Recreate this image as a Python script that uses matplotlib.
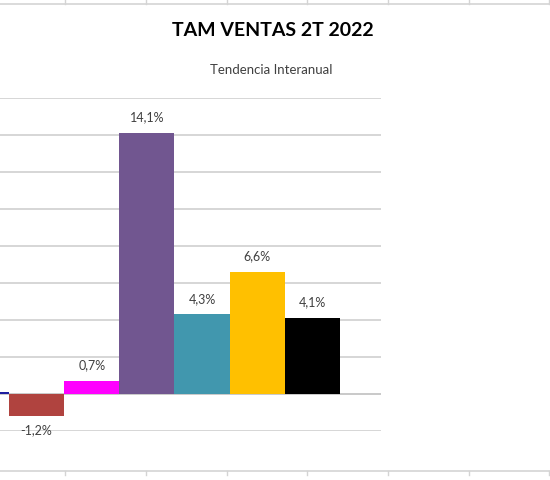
import matplotlib
matplotlib.use("Agg")
import matplotlib.pyplot as plt
from matplotlib.lines import Line2D

# Data (percent, year-on-year trend)
categories = ["A", "B", "C", "D", "E", "F", "G"]
values = [0.1, -1.2, 0.7, 14.1, 4.3, 6.6, 4.1]
labels = ["0,1%", "-1,2%", "0,7%", "14,1%", "4,3%", "6,6%", "4,1%"]
colors = ["#1f1fa0", "#b0433f", "#ff00ff", "#715690", "#4197ae", "#ffc000", "#000000"]
yticks = [-2, 0, 2, 4, 6, 8, 10, 12, 14, 16]

W, H = 550, 480
fig = plt.figure(figsize=(5.5, 4.8), dpi=100)
plt.rcParams['font.family'] = ['Lato', 'DejaVu Sans']

def fx(px):
    return px / W

def fy(py):
    return 1 - py / H

# plot area: x px 0..381, y px 98 (16%) .. 431 (-2%)
ax = fig.add_axes([fx(0), fy(431), fx(381), fy(98) - fy(431)])
x = list(range(len(categories)))
ax.bar(x, values, width=1.0, color=colors, zorder=3)
ax.set_xlim(0.338, 7.244)
ax.set_ylim(-2, 16)
ax.set_yticks(yticks)
ax.yaxis.grid(True, color="#d0d0d0", linewidth=1.2, zorder=0)
ax.tick_params(left=False, bottom=False, labelleft=False, labelbottom=False)
for s in ax.spines.values():
    s.set_visible(False)
ax.axhline(0, color="#c8c8c8", linewidth=1.2, zorder=2)

for xi, v, lab in zip(x, values, labels):
    if v >= 0:
        ax.annotate(lab, (xi, v), xytext=(0, 7), textcoords="offset points",
                    ha="center", va="bottom", fontsize=9, color="#404040")
    else:
        ax.annotate(lab, (xi, v), xytext=(0, -6), textcoords="offset points",
                    ha="center", va="top", fontsize=9, color="#404040")

# Titles
fig.text(fx(273), fy(31), "TAM VENTAS 2T 2022", ha="center", va="center",
         fontsize=14, fontweight="bold", color="#000000")
fig.text(fx(271), fy(70), "Tendencia Interanual", ha="center", va="center",
         fontsize=9.5, color="#404040")

# Spreadsheet cell gridlines
for yl in (4, 471):
    fig.add_artist(Line2D([0, 1], [fy(yl), fy(yl)], color="#d4d4d4", linewidth=1.2))
for xt in (65, 146, 227, 307, 388, 469, 549):
    fig.add_artist(Line2D([fx(xt), fx(xt)], [fy(4), fy(0)], color="#d4d4d4", linewidth=1))
    fig.add_artist(Line2D([fx(xt), fx(xt)], [fy(471), fy(475)], color="#d4d4d4", linewidth=1))

fig.savefig("out.png", dpi=100)
